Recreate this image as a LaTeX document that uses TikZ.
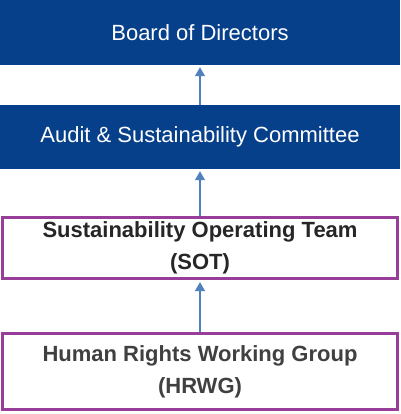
\documentclass[tikz,border=0pt]{standalone}
\usepackage{fontspec}
\setmainfont{Liberation Sans}
\usetikzlibrary{arrows.meta}
\definecolor{boxblue}{HTML}{06408A}
\definecolor{boxpurple}{HTML}{983D98}
\definecolor{arrowblue}{HTML}{4F81BD}
\definecolor{darktext}{HTML}{262626}
\definecolor{graytext}{HTML}{404040}
\tikzset{
  bluebox/.style={fill=boxblue, draw=none, text=white, minimum width=400pt, inner sep=0pt, font=\fontsize{22}{26}\selectfont},
  purplebox/.style={fill=white, draw=boxpurple, line width=3.2pt, minimum width=395pt, inner sep=0pt, align=center, font=\bfseries\fontsize{22}{32}\selectfont},
  uparrow/.style={draw=arrowblue, line width=1.1pt, -{Triangle[length=9pt,width=10pt]}, shorten >=2pt}
}
\begin{document}
\begin{tikzpicture}[x=1pt,y=-1pt]
\useasboundingbox (0,0) rectangle (400,414);
\node[bluebox, minimum height=65pt] (bod) at (200,32.5) {Board of Directors};
\node[bluebox, minimum height=64pt] (asc) at (200,137) {Audit \& Sustainability Committee};
\node[purplebox, minimum height=61pt, text=darktext] (sot) at (200,248) {\raisebox{-2pt}{Sustainability Operating Team}\\\raisebox{-2pt}{(SOT)}};
\node[purplebox, minimum height=76pt, text=graytext] (hrwg) at (200,371.5) {Human Rights Working Group\\(HRWG)};
\draw[uparrow] (asc.north) -- (bod.south);
\draw[uparrow] (sot.north) -- (asc.south);
\draw[uparrow] (hrwg.north) -- (sot.south);
\end{tikzpicture}
\end{document}
